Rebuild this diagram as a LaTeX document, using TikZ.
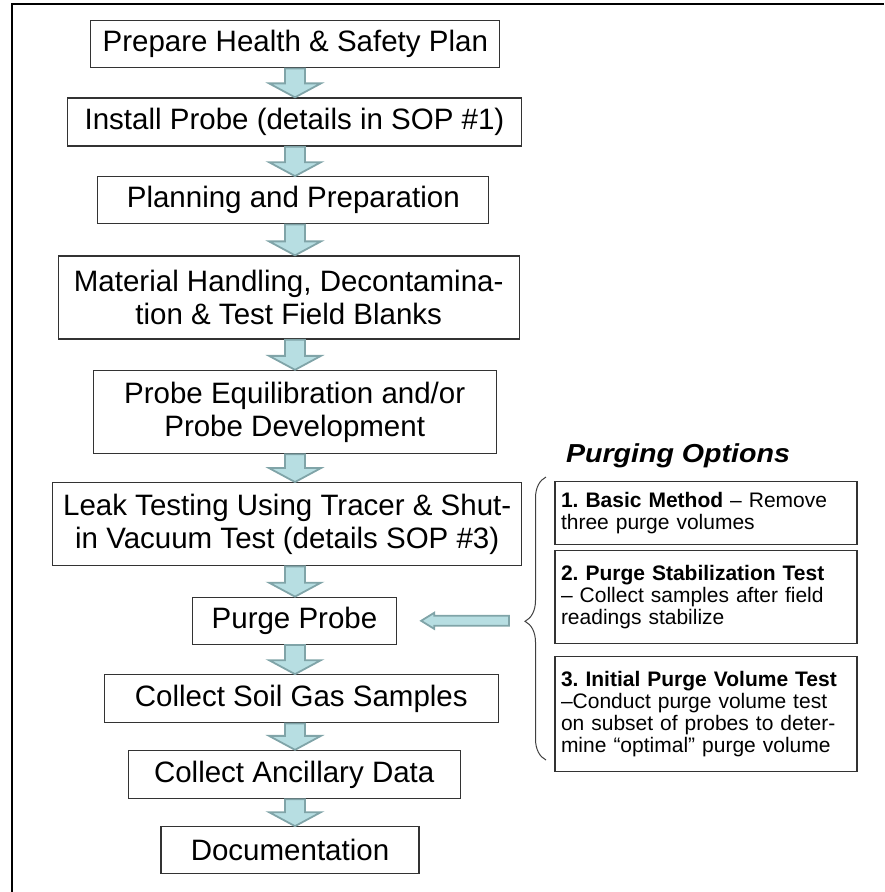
\documentclass[tikz,border=0pt]{standalone}
\usepackage{fontspec}
\setmainfont{Liberation Sans}
\newfontfamily\headfont[FakeStretch=1.1]{Liberation Sans}
\usetikzlibrary{calc,decorations.pathreplacing}
\definecolor{arrfill}{RGB}{183,222,226}
\definecolor{arrline}{RGB}{128,164,168}
\frenchspacing
\begin{document}
\begin{tikzpicture}[x=1pt,y=-1pt]

\tikzstyle{stage} = [
	draw=black!80, line width=1.3pt, fill=white, rectangle, align=center,
	inner sep=0pt, minimum height=47pt,
	font=\fontsize{29.5}{33}\selectfont ];
\tikzstyle{option} = [
	draw=black!80, line width=1.3pt, fill=white, rectangle, align=left,
	text width=290pt, inner xsep=6pt, inner ysep=0pt,
	font=\fontsize{21}{21.8}\selectfont ];
\tikzstyle{arrowbody} = [fill=arrfill, draw=arrline, line width=1.8pt, line join=miter];
\def\downarr#1#2{\path[arrowbody] let \p1=(#1.south), \p2=(#2.north), \p3=(spine) in
	(\x3-10pt,\y1) -- (\x3+10pt,\y1) -- (\x3+10pt,\y2+14pt) -- (\x3+26pt,\y2+14pt)
	-- (\x3,\y2) -- (\x3-26pt,\y2+14pt) -- (\x3-10pt,\y2+14pt) -- cycle;}

\useasboundingbox (0,0) rectangle (884,892);
\draw[line width=2pt] (12,892) -- (12,4) -- (884,4);

\coordinate (spine) at (295,0);

\node[stage,minimum width=409pt] (s1) at (295.3,44.3) {Prepare Health \& Safety Plan};
\node[stage,minimum width=454pt,minimum height=48pt] (s2) at (294.5,122) {Install Probe (details in SOP \#1)};
\node[stage,minimum width=391pt] (s3) at (293.3,200.3) {Planning and Preparation};
\node[stage,minimum width=461pt,minimum height=83pt] (s4) at (288.7,297.5) {Material Handling, Decontamina-\\tion \& Test Field Blanks};
\node[stage,minimum width=403pt,minimum height=83pt] (s5) at (294.7,412) {Probe Equilibration and/or\\Probe Development};
\node[stage,minimum width=469pt,minimum height=83pt] (s6) at (287.2,524.2) {Leak Testing Using Tracer \& Shut-\\in Vacuum Test (details SOP \#3)};
\node[stage,minimum width=204pt] (purge) at (294.5,620.8) {Purge Probe};
\node[stage,minimum width=394pt,minimum height=48pt] (s8) at (301.3,698.8) {Collect Soil Gas Samples};
\node[stage,minimum width=332pt,minimum height=48pt] (s9) at (294.2,774.5) {Collect Ancillary Data};
\node[stage,minimum width=258pt] (s10) at (290,850.3) {Documentation};

\downarr{s1}{s2}
\downarr{s2}{s3}
\downarr{s3}{s4}
\downarr{s4}{s5}
\downarr{s5}{s6}
\downarr{s6}{purge}
\downarr{purge}{s8}
\downarr{s8}{s9}
\downarr{s9}{s10}

\node[anchor=base,font=\headfont\fontsize{26}{30}\selectfont\bfseries\itshape] (head) at (678,462) {Purging Options};

\node[option,minimum height=63pt] (o1) at (706,513.3) {\textbf{1. Basic Method} – Remove\\three purge volumes};
\node[option,minimum height=93pt] (o2) at (706,597) {\textbf{2. Purge Stabilization Test}\\– Collect samples after field\\readings stabilize};
\node[option,minimum height=115pt] (o3) at (706,714.2) {\textbf{3. Initial Purge Volume Test}\\–Conduct purge volume test\\on subset of probes to deter-\\mine “optimal” purge volume};

\coordinate (bracebot) at (546,760);
\coordinate (bracetop) at (546,477);
\coordinate (bracetip) at (525,621.7);
\draw[black!75, line width=1pt, decorate, decoration={brace, amplitude=21pt, aspect=0.49}] (bracebot) -- (bracetop);

\path[arrowbody] let \p1=(bracetip), \p2=(purge.east) in
	(\x1-16pt,\y2+5pt) -- (\x2+37pt,\y2+5pt) -- (\x2+37pt,\y2+8pt) -- (\x2+24pt,\y2)
	-- (\x2+37pt,\y2-8pt) -- (\x2+37pt,\y2-5pt) -- (\x1-16pt,\y2-5pt) -- cycle;

\end{tikzpicture}
\end{document}
